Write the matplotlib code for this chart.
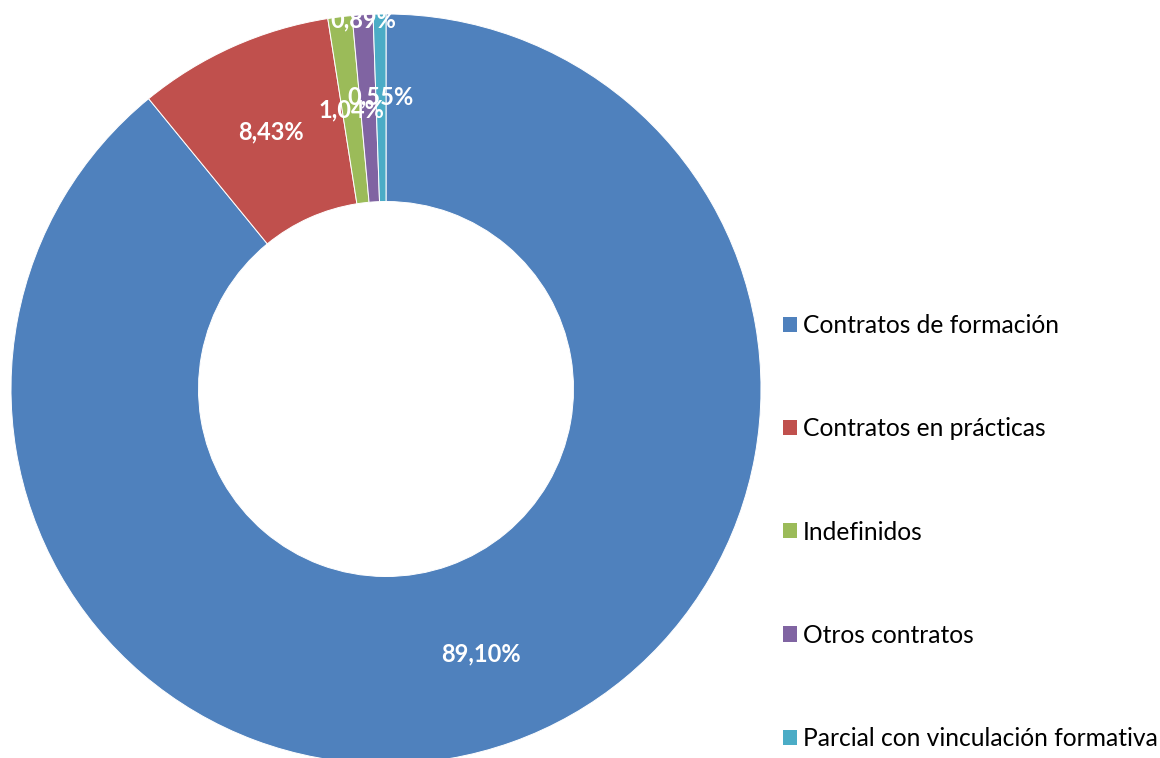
import matplotlib
matplotlib.use("Agg")
import matplotlib.pyplot as plt
from matplotlib.patches import Patch
import numpy as np

# Distribution of contract types (percent)
categories = [
    "Contratos de formación",
    "Contratos en prácticas",
    "Indefinidos",
    "Otros contratos",
    "Parcial con vinculación formativa",
]
shares = [89.10, 8.43, 1.04, 0.89, 0.55]
share_labels = ["89,10%", "8,43%", "1,04%", "0,89%", "0,55%"]

colors = ["#4F81BD", "#C0504D", "#9BBB59", "#8064A2", "#4BACC6"]
# radial position of each label (fraction of outer radius), Excel nudges the small ones
label_radius = [0.75, 0.75, 0.75, 0.985, 0.78]

plt.rcParams["font.family"] = ["Lato", "DejaVu Sans"]

W, H = 1160, 758
fig = plt.figure(figsize=(W / 100, H / 100), dpi=100)

# donut centre at (386, 389) px from top-left, outer radius 375 px
cx, cy, R = 386, 389, 375
ax = fig.add_axes([(cx - R) / W, (H - cy - R) / H, 2 * R / W, 2 * R / H])

wedges, _ = ax.pie(
    shares,
    colors=colors,
    startangle=90,
    counterclock=False,
    radius=1.0,
    wedgeprops=dict(width=0.5, edgecolor="white", linewidth=0.7),
)
# pie() pads the limits, put them back so radius 1 fills the axes
ax.set_xlim(-1, 1)
ax.set_ylim(-1, 1)
ax.set_aspect("equal")
ax.axis("off")
for w in wedges:
    w.set_clip_on(False)

for wedge, text, rad in zip(wedges, share_labels, label_radius):
    mid = np.deg2rad((wedge.theta1 + wedge.theta2) / 2)
    ax.text(
        rad * np.cos(mid),
        rad * np.sin(mid),
        text,
        ha="center",
        va="center",
        color="white",
        fontsize=17,
        fontweight="bold",
    )

handles = [Patch(facecolor=c, edgecolor="none") for c in colors]
fig.legend(
    handles,
    categories,
    loc="center left",
    bbox_to_anchor=(783 / W, 1 - 532 / H),
    frameon=False,
    fontsize=17.7,
    handlelength=0.57,
    handleheight=0.57,
    handletextpad=0.25,
    labelspacing=3.26,
    borderaxespad=0,
    borderpad=0,
)

fig.savefig("out.png", dpi=100)
